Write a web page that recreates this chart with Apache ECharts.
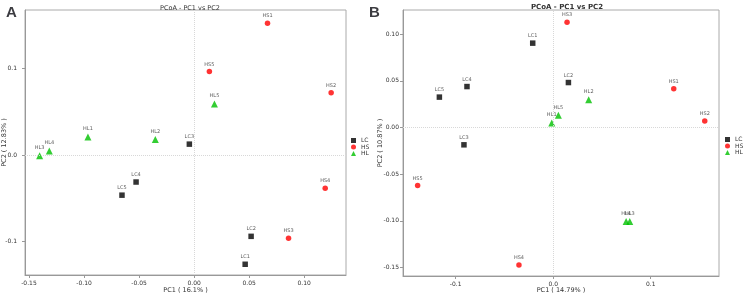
<!DOCTYPE html>
<html>
<head>
<meta charset="utf-8">
<script src="https://cdn.jsdelivr.net/npm/echarts@6/dist/echarts.min.js"></script>
<style>
  html, body { margin: 0; padding: 0; background: #fff; }
  #main { width: 743px; height: 299px; }
</style>
</head>
<body>
<div id="main"></div>
<script>
// 面板 A 的点 [PC1, PC2, 名称]
var lcA = [[0.0464, -0.1263, 'LC1'], [0.0518, -0.094, 'LC2'], [-0.0043, 0.0126, 'LC3'], [-0.0527, -0.0312, 'LC4'], [-0.0655, -0.0464, 'LC5']];
var hsA = [[0.0667, 0.1525, 'HS1'], [0.1245, 0.072, 'HS2'], [0.0858, -0.0963, 'HS3'], [0.1191, -0.0384, 'HS4'], [0.0139, 0.0965, 'HS5']];
var hlA = [[-0.0964, 0.021, 'HL1'], [-0.0352, 0.018, 'HL2'], [-0.1403, -0.0007, 'HL3'], [-0.1315, 0.0046, 'HL4'], [0.0185, 0.059, 'HL5']];
// 面板 B 的点
var lcB = [[-0.021, 0.0904, 'LC1'], [0.0156, 0.0482, 'LC2'], [-0.0915, -0.0185, 'LC3'], [-0.0884, 0.0439, 'LC4'], [-0.1167, 0.0326, 'LC5']];
var hsB = [[0.1236, 0.0415, 'HS1'], [0.1554, 0.007, 'HS2'], [0.0142, 0.1128, 'HS3'], [-0.0351, -0.1472, 'HS4'], [-0.139, -0.0621, 'HS5']];
var hlB = [[-0.0015, 0.0049, 'HL1'], [0.0364, 0.0298, 'HL2'], [0.0785, -0.1005, 'HL3'], [0.0748, -0.1005, 'HL4'], [0.0053, 0.0131, 'HL5']];
// 刻度
var xTicksA = [-0.15, -0.10, -0.05, 0, 0.05, 0.10];
var yTicksA = [-0.1, 0, 0.1];
var xTicksB = [-0.1, 0, 0.1];
var yTicksB = [-0.15, -0.10, -0.05, 0, 0.05, 0.10];

var groups = ['LC', 'HS', 'HL'];
var colors = {LC: '#000000', HS: '#ff0000', HL: '#00c000'};
var symbols = {LC: 'rect', HS: 'circle', HL: 'triangle'};
var font = 'DejaVu Sans';

function makeAxis(idx, min, max, ticks, digits, name, gap, margin) {
  return {
    gridIndex: idx, type: 'value', min: min, max: max,
    name: name, nameLocation: 'middle', nameGap: gap, nameMoveOverlap: false,
    nameTextStyle: {fontSize: 6.5, color: '#333', fontFamily: font},
    axisLine: {show: true, onZero: false, lineStyle: {color: '#999'}},
    axisTick: {show: true, customValues: ticks, length: 3, lineStyle: {color: '#999'}},
    axisLabel: {customValues: ticks, fontSize: 6, color: '#333', fontFamily: font, margin: margin,
      formatter: function (v) { return v.toFixed(digits); }},
    splitLine: {show: false}
  };
}

function makeSeries(name, data, axisIdx, withLines) {
  var s = {
    name: name, type: 'scatter',
    xAxisIndex: axisIdx, yAxisIndex: axisIdx,
    symbol: symbols[name], symbolSize: name === 'HL' ? 7 : 5.5,
    itemStyle: {color: colors[name]},
    label: {show: true, position: 'top', distance: 2, fontSize: 5, color: '#333', fontFamily: font,
      formatter: function (p) { return p.data[2]; }},
    data: data
  };
  if (withLines) {
    s.markLine = {
      silent: true, symbol: 'none', label: {show: false},
      lineStyle: {color: '#d8d8d8', type: 'dotted', width: 1},
      data: [{xAxis: 0}, {yAxis: 0}]
    };
  }
  return s;
}

function makeLegend(left, top) {
  return {
    orient: 'vertical', left: left, top: top, padding: 0,
    itemWidth: 5, itemHeight: 5, itemGap: 0.5,
    textStyle: {fontSize: 6, color: '#333', fontFamily: font},
    data: groups.map(function (g) { return {name: g, icon: symbols[g]}; })
  };
}

var myChart = echarts.init(document.getElementById('main'));
var option = {
  animation: false,
  title: [
    {text: 'A', left: 1, top: 0, textStyle: {fontSize: 15, fontWeight: 'bold', fontFamily: 'Liberation Sans'}},
    {text: 'B', left: 364, top: 0, textStyle: {fontSize: 15, fontWeight: 'bold', fontFamily: 'Liberation Sans'}},
    {text: 'PCoA - PC1 vs PC2', left: 185, top: 0, textAlign: 'center',
      textStyle: {fontSize: 6.5, fontWeight: 'normal', color: '#333', fontFamily: font}},
    {text: 'PCoA - PC1 vs PC2', left: 562, top: -1, textAlign: 'center',
      textStyle: {fontSize: 7, fontWeight: 'bold', color: '#333', fontFamily: font}}
  ],
  legend: [makeLegend(351, 137.5), makeLegend(725, 136.5)],
  grid: [
    {left: 25, top: 10, width: 321, height: 268, show: true, borderColor: '#aaa', borderWidth: 1},
    {left: 403, top: 10, width: 316, height: 268, show: true, borderColor: '#aaa', borderWidth: 1}
  ],
  xAxis: [
    makeAxis(0, -0.1536, 0.138, xTicksA, 2, 'PC1 ( 16.1% )', 12, 5),
    makeAxis(1, -0.154, 0.170, xTicksB, 1, 'PC1 ( 14.79% )', 11, 5)
  ],
  yAxis: [
    makeAxis(0, -0.1387, 0.1677, yTicksA, 1, 'PC2 ( 12.83% )', 17, 8),
    makeAxis(1, -0.159, 0.1259, yTicksB, 2, 'PC2 ( 10.87% )', 19, 4)
  ],
  series: [
    makeSeries('LC', lcA, 0, true),
    makeSeries('HS', hsA, 0, false),
    makeSeries('HL', hlA, 0, false),
    makeSeries('LC', lcB, 1, true),
    makeSeries('HS', hsB, 1, false),
    makeSeries('HL', hlB, 1, false)
  ]
};
myChart.setOption(option);
</script>
</body>
</html>
